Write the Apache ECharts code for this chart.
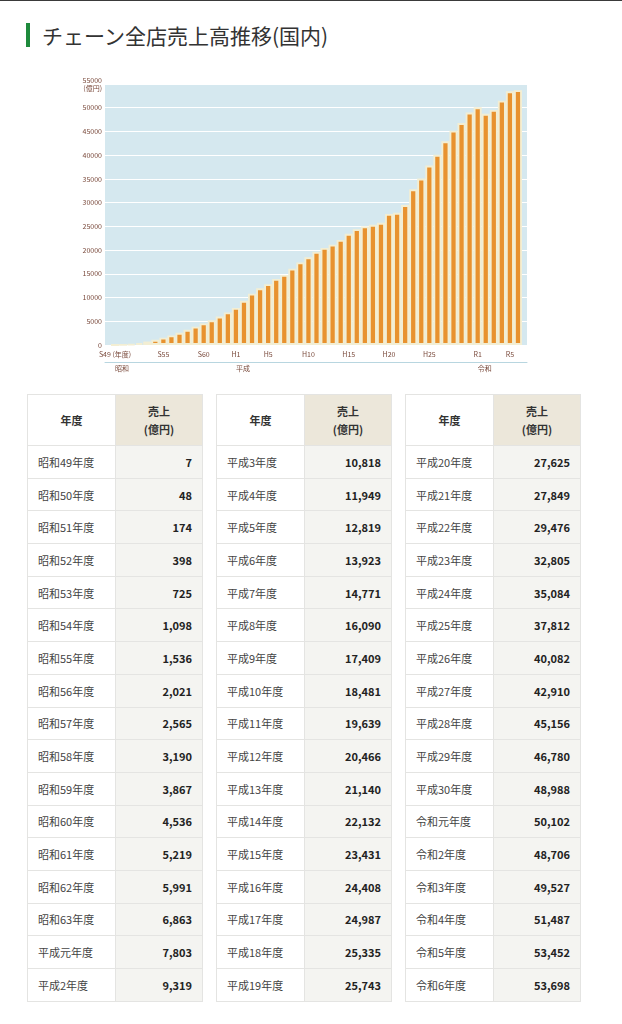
<!DOCTYPE html>
<html>
<head>
<meta charset="utf-8">
<script src="https://cdn.jsdelivr.net/npm/echarts@6/dist/echarts.min.js"></script>
<style>
  html, body { margin: 0; padding: 0; background: #fff; }
  body { width: 622px; height: 1024px; position: relative; overflow: hidden;
         font-family: "Noto Sans CJK JP", "Noto Sans", sans-serif; border-top: 1px solid #3a3a3a; box-sizing: border-box; }
  #title { position: absolute; left: 26px; top: 22px; height: 24px; line-height: 24px;
           padding-left: 12px; border-left: 4px solid #1e8a3c; font-size: 21px; color: #333; }
  #main { position: absolute; left: 0; top: 0; width: 622px; height: 385px; }
  #tables { position: absolute; left: 27px; top: 393px; }
  table { position: absolute; top: 0; width: 175px; border-collapse: collapse; table-layout: fixed;
          font-size: 11px; color: #444; }
  td, th { border: 1px solid #e4e4e2; height: 32.7px; padding: 0 10px; box-sizing: border-box; }
  th { height: 51px; font-weight: bold; color: #333; text-align: center; line-height: 18px; padding: 0; background: #fff; }
  th.v { background: #ece7da; }
  td.n { background: #f4f4f1; text-align: right; font-weight: bold; color: #222; }
  td.y { background: #fff; }
</style>
</head>
<body>
<div id="title">チェーン全店売上高推移(国内)</div>
<div id="main"></div>
<div id="tables"></div>
<script>
// 年度
var years = ['昭和49年度','昭和50年度','昭和51年度','昭和52年度','昭和53年度','昭和54年度','昭和55年度','昭和56年度','昭和57年度','昭和58年度','昭和59年度','昭和60年度','昭和61年度','昭和62年度','昭和63年度','平成元年度','平成2年度',
  '平成3年度','平成4年度','平成5年度','平成6年度','平成7年度','平成8年度','平成9年度','平成10年度','平成11年度','平成12年度','平成13年度','平成14年度','平成15年度','平成16年度','平成17年度','平成18年度','平成19年度',
  '平成20年度','平成21年度','平成22年度','平成23年度','平成24年度','平成25年度','平成26年度','平成27年度','平成28年度','平成29年度','平成30年度','令和元年度','令和2年度','令和3年度','令和4年度','令和5年度','令和6年度'];
// 売上(億円)
var sales = [7,48,174,398,725,1098,1536,2021,2565,3190,3867,4536,5219,5991,6863,7803,9319,
  10818,11949,12819,13923,14771,16090,17409,18481,19639,20466,21140,22132,23431,24408,24987,25335,25743,
  27625,27849,29476,32805,35084,37812,40082,42910,45156,46780,48988,50102,48706,49527,51487,53452,53698];
// x軸ラベル
var tickIndex = [0, 6, 11, 15, 19, 24, 29, 34, 39, 45, 49];
var tickText = ['S49 (年度)', 'S55', 'S60', 'H1', 'H5', 'H10', 'H15', 'H20', 'H25', 'R1', 'R5'];
var eraIndex = [0, 15, 45];
var eraText = ['昭和', '平成', '令和'];
var yTicks = { min: 0, max: 55000, interval: 5000 };

// 表
var tablesDiv = document.getElementById('tables');
for (var t = 0; t < 3; t++) {
  var html = '<colgroup><col style="width:88px"><col style="width:87px"></colgroup>' +
    '<tr><th>年度</th><th class="v">売上<br>(億円)</th></tr>';
  for (var r = t * 17; r < t * 17 + 17; r++) {
    html += '<tr><td class="y">' + years[r] + '</td><td class="n">' + sales[r].toLocaleString('en-US') + '</td></tr>';
  }
  var tb = document.createElement('table');
  tb.style.left = (t * 189) + 'px';
  tb.innerHTML = html;
  tablesDiv.appendChild(tb);
}

// 図表
var myChart = echarts.init(document.getElementById('main'));
var labelColor = '#7a4a3c';
var option = {
  animation: false,
  textStyle: { fontFamily: 'Noto Sans CJK JP' },
  grid: [
    { left: 105, right: 95, top: 83, bottom: 41, show: true, backgroundColor: '#d5e8ef', borderWidth: 0 },
    { left: 111, right: 100, top: 83, bottom: 41 }
  ],
  xAxis: [
    { // 元号ライン
      gridIndex: 0, type: 'value', min: 0, max: 1, position: 'bottom', offset: 17,
      axisLine: { show: true, onZero: false, lineStyle: { color: '#b8d6e0', width: 1 } },
      axisTick: { show: false }, axisLabel: { show: false }, splitLine: { show: false }
    },
    {
      gridIndex: 1, type: 'category', data: years, position: 'bottom',
      axisLine: { show: false }, axisTick: { show: false }, splitLine: { show: false },
      axisLabel: {
        interval: function (i) { return tickIndex.indexOf(i) >= 0; },
        formatter: function (v, i) { var k = tickIndex.indexOf(i); return k >= 0 ? tickText[k] : ''; },
        fontSize: 7, color: labelColor, margin: 6
      }
    },
    {
      gridIndex: 1, type: 'category', data: years, position: 'bottom', offset: 17,
      axisLine: { show: false }, axisTick: { show: false }, splitLine: { show: false },
      axisLabel: {
        interval: function (i) { return eraIndex.indexOf(i) >= 0; },
        formatter: function (v, i) { var k = eraIndex.indexOf(i); return k >= 0 ? eraText[k] : ''; },
        fontSize: 7, color: labelColor, margin: 3, align: 'left'
      }
    }
  ],
  yAxis: [
    {
      gridIndex: 0, type: 'value', min: yTicks.min, max: yTicks.max, interval: yTicks.interval,
      axisLine: { show: false }, axisTick: { show: false }, showMinLabel: false,
      splitLine: { show: true, lineStyle: { color: '#ffffff', width: 1 } },
      axisLabel: {
        fontSize: 7, color: labelColor, margin: 3, lineHeight: 8,
        formatter: function (v) { return v === yTicks.max ? v + '\n(億円)' : v; }
      }
    },
    {
      gridIndex: 1, type: 'value', min: yTicks.min, max: yTicks.max, interval: yTicks.interval,
      axisLine: { show: false }, axisTick: { show: false }, axisLabel: { show: false }, splitLine: { show: false }
    }
  ],
  series: [
    {
      name: '売上', type: 'bar', xAxisIndex: 1, yAxisIndex: 1, data: sales,
      barWidth: '100%', z: 3,
      // 棒の両脇のクリーム色の帯 (枠線は棒の内側に描かれる)
      itemStyle: { color: '#e8922f', borderColor: '#f3eed3', borderWidth: 1.9 }
    }
  ]
};
myChart.setOption(option);
</script>
</body>
</html>
